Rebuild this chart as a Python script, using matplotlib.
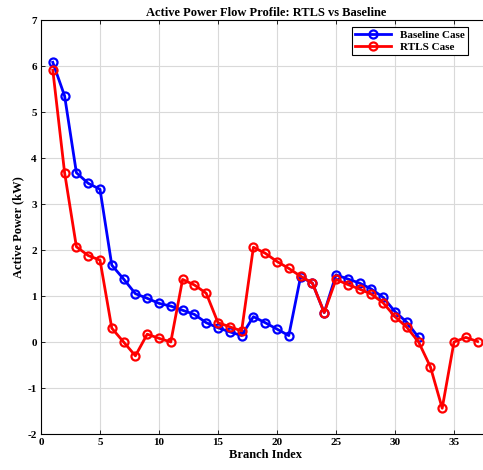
import numpy as np
import matplotlib
matplotlib.use("Agg")
import matplotlib.pyplot as plt

# Branch flows (kW)
baseline_idx = np.arange(1, 33)
baseline_p = [6.08, 5.35, 3.68, 3.45, 3.32, 1.67, 1.37, 1.05, 0.95, 0.84,
              0.78, 0.69, 0.60, 0.42, 0.31, 0.22, 0.14, 0.55, 0.42, 0.28,
              0.14, 1.42, 1.28, 0.64, 1.46, 1.37, 1.28, 1.15, 0.97, 0.66,
              0.43, 0.10]

rtls_idx = np.arange(1, 38)
rtls_p = [5.91, 3.68, 2.07, 1.88, 1.78, 0.30, 0.0, -0.30, 0.17, 0.08,
          0.0, 1.36, 1.24, 1.06, 0.42, 0.33, 0.24, 2.06, 1.93, 1.75,
          1.60, 1.43, 1.28, 0.64, 1.36, 1.25, 1.15, 1.04, 0.85, 0.55,
          0.32, 0.0, -0.54, -1.44, 0.0, 0.10, 0.01]

x_ticks = [0, 5, 10, 15, 20, 25, 30, 35]
y_ticks = [-2, -1, 0, 1, 2, 3, 4, 5, 6, 7]

plt.rcParams['font.family'] = ['Liberation Serif', 'DejaVu Serif']
plt.rcParams['font.weight'] = 'bold'
plt.rcParams['axes.unicode_minus'] = False

W, H = 483, 470
fig = plt.figure(figsize=(W / 100, H / 100), dpi=100)
# axes runs a little past the right edge of the figure (cropped like the reference)
ax = fig.add_axes([41 / W, (H - 434) / H, (38 * 11.8) / W, 414 / H])

ax.plot(baseline_idx, baseline_p, '-o', color='blue', lw=2, ms=5.8,
        mfc='none', mew=1.6, label='Baseline Case')
ax.plot(rtls_idx, rtls_p, '-o', color='red', lw=2, ms=5.8,
        mfc='none', mew=1.6, label='RTLS Case')

ax.set_xlim(0, 38)
ax.set_ylim(-2, 7)
ax.set_xticks(x_ticks)
ax.set_yticks(y_ticks)
ax.tick_params(labelsize=8, direction='in', length=3, width=0.6,
               top=True, right=True, pad=3)
ax.grid(True, color='#d9d9d9', lw=0.8)
ax.set_axisbelow(True)
for s in ax.spines.values():
    s.set_linewidth(0.8)

ax.set_xlabel('Branch Index', fontsize=9, fontweight='bold', labelpad=1)
ax.set_ylabel('Active Power (kW)', fontsize=9, fontweight='bold', labelpad=2)
fig.text((145 + 388) / 2 / W, 1 - 13 / H,
         'Active Power Flow Profile: RTLS vs Baseline', fontsize=9,
         fontweight='bold', ha='center', va='center')

leg = ax.legend(loc='upper right', fontsize=8, fancybox=False,
                framealpha=1, edgecolor='black', borderaxespad=0,
                bbox_to_anchor=(468 / W, 1 - 27 / H),
                bbox_transform=fig.transFigure,
                handlelength=3.2, borderpad=0.3, labelspacing=0.2)
leg.get_frame().set_linewidth(0.8)

fig.savefig('out.png', dpi=100)
